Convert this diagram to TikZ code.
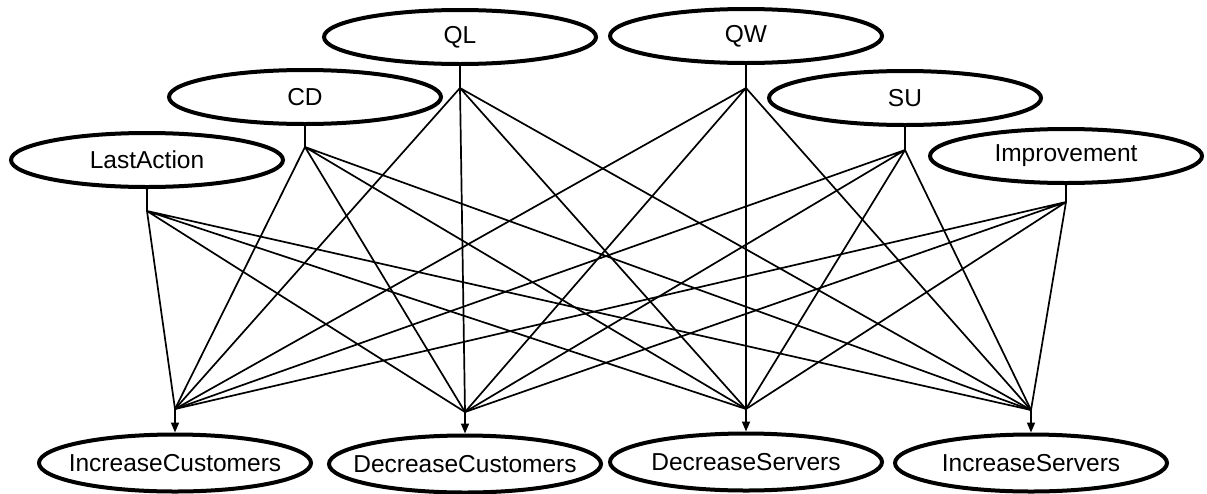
\documentclass[tikz,border=0pt]{standalone}
\usepackage{fontspec}
\setmainfont{Liberation Sans}
\usetikzlibrary{arrows.meta,
                shapes.geometric}

\tikzset{var/.style = {ellipse, draw, line width = 4pt,
                       minimum width = 272pt, minimum height = 54pt,
                       inner xsep = -20pt, inner ysep = 0pt,
                       font = \fontsize{24.5}{28}\selectfont},
         link/.style = {line width = 1.7pt}}

\begin{document}
\begin{tikzpicture}% 
            [x = 1pt, y = -1pt]
            \fill [white] (0,0) rectangle (1207,493);
            \useasboundingbox (0,0) rectangle (1207,493);

            \node [var] (QL) at (460,37) {QL};
            \node [var] (QW) at (746,36) {QW};
            \node [var] (CD) at (305,97) {CD};
            \node [var] (SU) at (905,98) {SU};
            \node [var] (LA) at (147,160) {LastAction};
            \node [var] (IM) at (1066,156) {Improvement};

            \node [var, minimum height = 57pt] (IC) at (175,463) {IncreaseCustomers};
            \node [var, minimum height = 57pt] (DC) at (465,464) {DecreaseCustomers};
            \node [var, minimum height = 57pt] (DS) at (746,462) {DecreaseServers};
            \node [var, minimum height = 57pt] (IS) at (1031,463) {IncreaseServers};

            \coordinate (QLj) at (460,88);
            \coordinate (QWj) at (746,88);
            \coordinate (CDj) at (305,147);
            \coordinate (SUj) at (905,150);
            \coordinate (LAj) at (147,211);
            \coordinate (IMj) at (1066,202);

            \coordinate (ICj) at (175,409);
            \coordinate (DCj) at (465,412);
            \coordinate (DSj) at (746,409);
            \coordinate (ISj) at (1031,410);

            \draw [link] (QL) -- (QLj) (QW) -- (QWj) (CD) -- (CDj);
            \draw [link] (SU) -- (SUj) (LA) -- (LAj) (IM) -- (IMj);

            \draw [link] (QLj) -- (ICj) (QLj) -- (DCj) (QLj) -- (DSj) (QLj) -- (ISj);
            \draw [link] (QWj) -- (ICj) (QWj) -- (DCj) (QWj) -- (DSj) (QWj) -- (ISj);
            \draw [link] (CDj) -- (ICj) (CDj) -- (DCj) (CDj) -- (DSj) (CDj) -- (ISj);
            \draw [link] (SUj) -- (ICj) (SUj) -- (DCj) (SUj) -- (DSj) (SUj) -- (ISj);
            \draw [link] (LAj) -- (ICj) (LAj) -- (DCj) (LAj) -- (DSj) (LAj) -- (ISj);
            \draw [link] (IMj) -- (ICj) (IMj) -- (DCj) (IMj) -- (DSj) (IMj) -- (ISj);

            \draw [link, -{Triangle[length=10pt, width=8pt]}] (ICj) -- (IC);
            \draw [link, -{Triangle[length=10pt, width=8pt]}] (DCj) -- (DC);
            \draw [link, -{Triangle[length=10pt, width=8pt]}] (DSj) -- (DS);
            \draw [link, -{Triangle[length=10pt, width=8pt]}] (ISj) -- (IS);
        \end{tikzpicture}
\end{document}
